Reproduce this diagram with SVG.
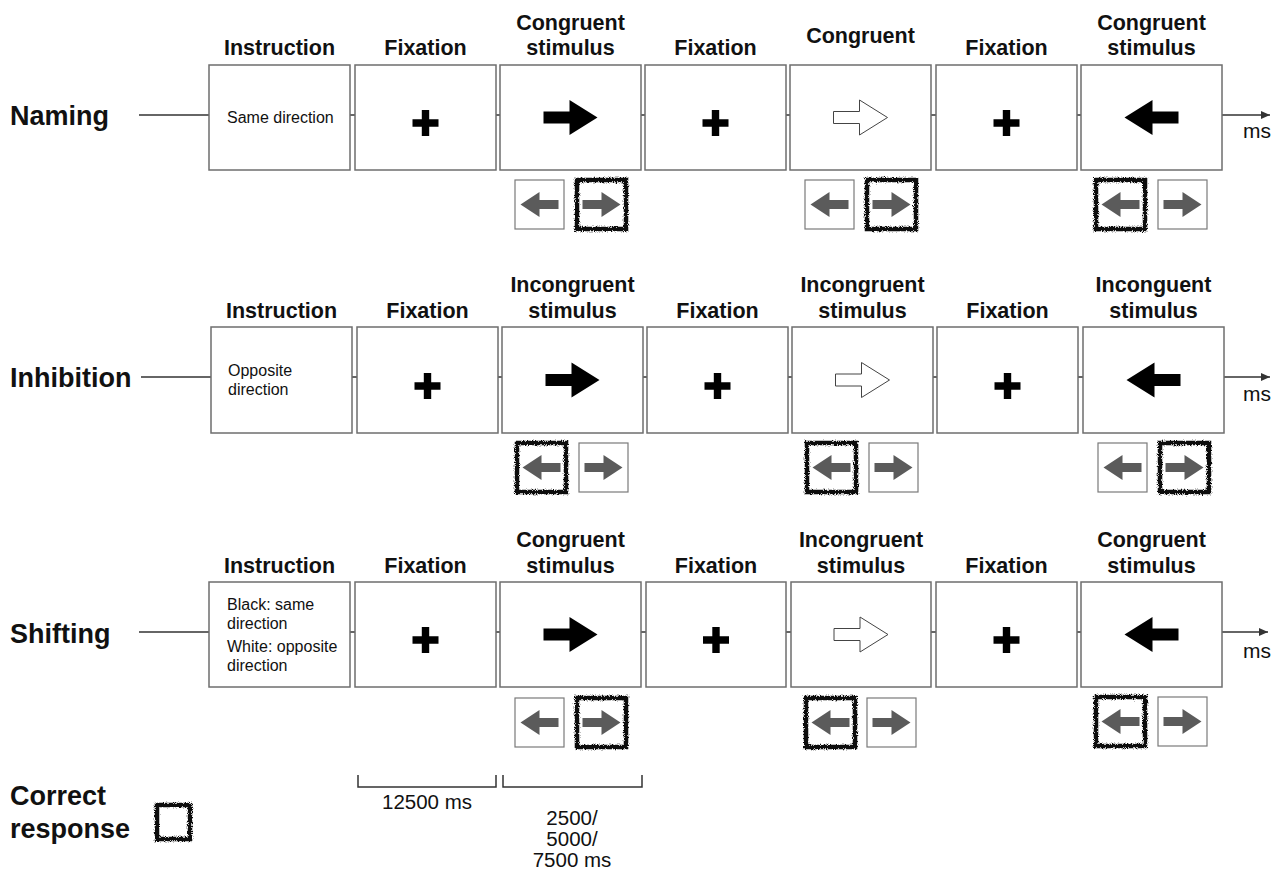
<svg xmlns="http://www.w3.org/2000/svg" width="1282" height="870" viewBox="0 0 1282 870">
<style>
.bg{fill:#fff}
.box{fill:#fff;stroke:#6e6e6e;stroke-width:1.5}
.rbox{fill:#fff;stroke:#7a7a7a;stroke-width:1.2}
.correct{fill:none;stroke:#111;stroke-width:4.5;filter:url(#rough)}
.tl{stroke:#333;stroke-width:1.5;fill:none}
.title{font-family:"Liberation Sans",Arial,sans-serif;font-weight:bold;font-size:21.5px;fill:#111;text-anchor:middle}
.row{font-family:"Liberation Sans",Arial,sans-serif;font-weight:bold;font-size:27px;fill:#111}
.instr{font-family:"Liberation Sans",Arial,sans-serif;font-size:16px;fill:#111}
.ms{font-family:"Liberation Sans",Arial,sans-serif;font-size:21px;fill:#111}
.dur{font-family:"Liberation Sans",Arial,sans-serif;font-size:20.5px;fill:#111;text-anchor:middle}
.blk{fill:#000}
.wht{fill:#fff;stroke:#444;stroke-width:1}
.gry{fill:#5b5b5b}
</style>
<defs>
<filter id="rough" x="-20%" y="-20%" width="140%" height="140%">
<feTurbulence type="fractalNoise" baseFrequency="1.1" numOctaves="2" seed="4" result="n"/>
<feDisplacementMap in="SourceGraphic" in2="n" scale="4.5" xChannelSelector="R" yChannelSelector="G"/>
</filter>
<marker id="ah" markerWidth="10" markerHeight="8" refX="9" refY="4" orient="auto" markerUnits="userSpaceOnUse">
<path d="M0,0 L9,4 L0,8 Z" fill="#333"/>
</marker>
<path id="arR" d="M-27,-6 H-1 V-17.5 L27,0 L-1,17.5 V6 H-27 Z"/>
<path id="arL" d="M27,-6 H1 V-17.5 L-27,0 L1,17.5 V6 H27 Z"/>
<path id="plus" d="M-3.7,-13 H3.7 V-3.7 H13 V3.7 H3.7 V13 H-3.7 V3.7 H-13 V-3.7 H-3.7 Z"/>
<path id="sR" d="M-19,-4.5 H0 V-12.5 L19,0 L0,12.5 V4.5 H-19 Z"/>
<path id="sL" d="M19,-4.5 H0 V-12.5 L-19,0 L0,12.5 V4.5 H19 Z"/>
</defs>
<rect class="bg" x="0" y="0" width="1282" height="870"/>

<g id="connectors">
<line class="tl" x1="139" y1="115" x2="1270" y2="115" marker-end="url(#ah)"/>
<line class="tl" x1="141" y1="377" x2="1270" y2="377" marker-end="url(#ah)"/>
<line class="tl" x1="139" y1="632" x2="1268" y2="632" marker-end="url(#ah)"/>
</g>

<!-- Row 1 Naming -->
<g id="naming-label"><text class="row" x="10" y="125">Naming</text></g>
<g id="r1-instruction"><text class="title" x="279.5" y="55">Instruction</text><rect class="box" x="209" y="65" width="141" height="105"/><text class="instr" x="227" y="123">Same direction</text></g>
<g id="r1-fix1"><text class="title" x="425.5" y="55">Fixation</text><rect class="box" x="355" y="65" width="141" height="105"/><use href="#plus" class="blk" x="425.5" y="123"/></g>
<g id="r1-stim1"><text class="title" x="570.5" y="30">Congruent</text><text class="title" x="570.5" y="55">stimulus</text><rect class="box" x="500" y="65" width="141" height="105"/><use href="#arR" class="blk" x="570.5" y="117.5"/></g>
<g id="r1-fix2"><text class="title" x="715.5" y="55">Fixation</text><rect class="box" x="645" y="65" width="141" height="105"/><use href="#plus" class="blk" x="715.5" y="123"/></g>
<g id="r1-stim2"><text class="title" x="860.5" y="43">Congruent</text><rect class="box" x="790" y="65" width="141" height="105"/><use href="#arR" class="wht" x="860.5" y="117.5"/></g>
<g id="r1-fix3"><text class="title" x="1006.5" y="55">Fixation</text><rect class="box" x="936" y="65" width="141" height="105"/><use href="#plus" class="blk" x="1006.5" y="123"/></g>
<g id="r1-stim3"><text class="title" x="1151.5" y="30">Congruent</text><text class="title" x="1151.5" y="55">stimulus</text><rect class="box" x="1081" y="65" width="141" height="105"/><use href="#arL" class="blk" x="1151.5" y="117.5"/></g>
<g id="r1-ms"><text class="ms" x="1243" y="138">ms</text></g>
<g id="r1-resp1"><rect class="rbox" x="515" y="180" width="49" height="49"/><use href="#sL" class="gry" x="539.5" y="204.5"/><rect class="rbox" x="577" y="180" width="49" height="49"/><use href="#sR" class="gry" x="601.5" y="204.5"/><rect class="correct" x="577" y="180" width="49" height="49"/></g>
<g id="r1-resp2"><rect class="rbox" x="805" y="180" width="49" height="49"/><use href="#sL" class="gry" x="829.5" y="204.5"/><rect class="rbox" x="867" y="180" width="49" height="49"/><use href="#sR" class="gry" x="891.5" y="204.5"/><rect class="correct" x="867" y="180" width="49" height="49"/></g>
<g id="r1-resp3"><rect class="rbox" x="1096" y="180" width="49" height="49"/><use href="#sL" class="gry" x="1120.5" y="204.5"/><rect class="correct" x="1096" y="180" width="49" height="49"/><rect class="rbox" x="1158" y="180" width="49" height="49"/><use href="#sR" class="gry" x="1182.5" y="204.5"/></g>

<!-- Row 2 Inhibition -->
<g id="inhibition-label"><text class="row" x="10" y="387">Inhibition</text></g>
<g id="r2-instruction"><text class="title" x="281.5" y="318">Instruction</text><rect class="box" x="211" y="327" width="141" height="106"/><text class="instr" x="228" y="376">Opposite</text><text class="instr" x="228" y="395">direction</text></g>
<g id="r2-fix1"><text class="title" x="427.5" y="318">Fixation</text><rect class="box" x="357" y="327" width="141" height="106"/><use href="#plus" class="blk" x="427.5" y="386"/></g>
<g id="r2-stim1"><text class="title" x="572.5" y="292">Incongruent</text><text class="title" x="572.5" y="318">stimulus</text><rect class="box" x="502" y="327" width="141" height="106"/><use href="#arR" class="blk" x="572.5" y="380"/></g>
<g id="r2-fix2"><text class="title" x="717.5" y="318">Fixation</text><rect class="box" x="647" y="327" width="141" height="106"/><use href="#plus" class="blk" x="717.5" y="386"/></g>
<g id="r2-stim2"><text class="title" x="862.5" y="292">Incongruent</text><text class="title" x="862.5" y="318">stimulus</text><rect class="box" x="792" y="327" width="141" height="106"/><use href="#arR" class="wht" x="862.5" y="380"/></g>
<g id="r2-fix3"><text class="title" x="1007.5" y="318">Fixation</text><rect class="box" x="937" y="327" width="141" height="106"/><use href="#plus" class="blk" x="1007.5" y="386"/></g>
<g id="r2-stim3"><text class="title" x="1153.5" y="292">Inconguent</text><text class="title" x="1153.5" y="318">stimulus</text><rect class="box" x="1083" y="327" width="141" height="106"/><use href="#arL" class="blk" x="1153.5" y="380"/></g>
<g id="r2-ms"><text class="ms" x="1243" y="401">ms</text></g>
<g id="r2-resp1"><rect class="rbox" x="517" y="443" width="49" height="49"/><use href="#sL" class="gry" x="541.5" y="467.5"/><rect class="correct" x="517" y="443" width="49" height="49"/><rect class="rbox" x="579" y="443" width="49" height="49"/><use href="#sR" class="gry" x="603.5" y="467.5"/></g>
<g id="r2-resp2"><rect class="rbox" x="807" y="443" width="49" height="49"/><use href="#sL" class="gry" x="831.5" y="467.5"/><rect class="correct" x="807" y="443" width="49" height="49"/><rect class="rbox" x="869" y="443" width="49" height="49"/><use href="#sR" class="gry" x="893.5" y="467.5"/></g>
<g id="r2-resp3"><rect class="rbox" x="1098" y="443" width="49" height="49"/><use href="#sL" class="gry" x="1122.5" y="467.5"/><rect class="rbox" x="1160" y="443" width="49" height="49"/><use href="#sR" class="gry" x="1184.5" y="467.5"/><rect class="correct" x="1160" y="443" width="49" height="49"/></g>

<!-- Row 3 Shifting -->
<g id="shifting-label"><text class="row" x="10" y="643">Shifting</text></g>
<g id="r3-instruction"><text class="title" x="279.5" y="573">Instruction</text><rect class="box" x="209" y="582" width="141" height="105"/><text class="instr" x="227" y="610">Black: same</text><text class="instr" x="227" y="629">direction</text><text class="instr" x="227" y="652">White: opposite</text><text class="instr" x="227" y="671">direction</text></g>
<g id="r3-fix1"><text class="title" x="425.5" y="573">Fixation</text><rect class="box" x="355" y="582" width="141" height="105"/><use href="#plus" class="blk" x="425.5" y="640"/></g>
<g id="r3-stim1"><text class="title" x="570.5" y="547">Congruent</text><text class="title" x="570.5" y="573">stimulus</text><rect class="box" x="500" y="582" width="141" height="105"/><use href="#arR" class="blk" x="570.5" y="634.5"/></g>
<g id="r3-fix2"><text class="title" x="716" y="573">Fixation</text><rect class="box" x="646" y="582" width="140" height="105"/><use href="#plus" class="blk" x="716" y="640"/></g>
<g id="r3-stim2"><text class="title" x="861" y="547">Incongruent</text><text class="title" x="861" y="573">stimulus</text><rect class="box" x="791" y="582" width="140" height="105"/><use href="#arR" class="wht" x="861" y="634.5"/></g>
<g id="r3-fix3"><text class="title" x="1006.5" y="573">Fixation</text><rect class="box" x="936" y="582" width="141" height="105"/><use href="#plus" class="blk" x="1006.5" y="640"/></g>
<g id="r3-stim3"><text class="title" x="1151.5" y="547">Congruent</text><text class="title" x="1151.5" y="573">stimulus</text><rect class="box" x="1081" y="582" width="141" height="105"/><use href="#arL" class="blk" x="1151.5" y="634.5"/></g>
<g id="r3-ms"><text class="ms" x="1243" y="658">ms</text></g>
<g id="r3-resp1"><rect class="rbox" x="515" y="698" width="49" height="49"/><use href="#sL" class="gry" x="539.5" y="722.5"/><rect class="rbox" x="577" y="698" width="49" height="49"/><use href="#sR" class="gry" x="601.5" y="722.5"/><rect class="correct" x="577" y="698" width="49" height="49"/></g>
<g id="r3-resp2"><rect class="rbox" x="806" y="698" width="49" height="49"/><use href="#sL" class="gry" x="830.5" y="722.5"/><rect class="correct" x="806" y="698" width="49" height="49"/><rect class="rbox" x="867" y="698" width="49" height="49"/><use href="#sR" class="gry" x="891.5" y="722.5"/></g>
<g id="r3-resp3"><rect class="rbox" x="1096" y="697" width="49" height="49"/><use href="#sL" class="gry" x="1120.5" y="721.5"/><rect class="correct" x="1096" y="697" width="49" height="49"/><rect class="rbox" x="1158" y="697" width="49" height="49"/><use href="#sR" class="gry" x="1182.5" y="721.5"/></g>

<!-- Durations -->
<g id="dur-fixation"><path class="tl" d="M358,775 V787 H496 V775"/><text class="dur" x="427" y="809">12500 ms</text></g>
<g id="dur-stimulus"><path class="tl" d="M503,775 V787 H642 V775"/><text class="dur" x="572" y="825">2500/</text><text class="dur" x="572" y="846">5000/</text><text class="dur" x="572" y="867">7500 ms</text></g>

<!-- Legend -->
<g id="legend"><text class="row" x="10" y="805">Correct</text><text class="row" x="10" y="838">response</text><rect class="correct" x="157" y="805" width="33" height="34"/></g>
</svg>
